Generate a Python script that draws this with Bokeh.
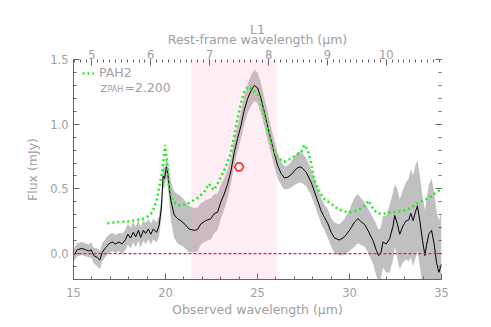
from bokeh.plotting import figure
from bokeh.models import (Range1d, LinearAxis, FixedTicker, Span, BoxAnnotation,
                          Legend, LegendItem, Label, NumeralTickFormatter)
from bokeh.embed import file_html
from bokeh.resources import INLINE
import numpy as np

# ---------------- data ----------------
z_pah = 2.2
obs_wave = [15.0, 15.2, 15.47, 15.65, 15.83, 15.96, 16.1, 16.3, 16.43, 16.56, 16.74, 16.92,
            17.1, 17.29, 17.47, 17.65, 17.83, 17.96, 18.1, 18.25, 18.38, 18.53, 18.65, 18.8,
            18.92, 19.07, 19.2, 19.34, 19.52, 19.65, 19.78, 19.87, 19.95, 20.05, 20.12, 20.2,
            20.29, 20.47, 20.65, 20.83, 21.1, 21.28, 21.56, 21.74, 21.92, 22.19, 22.47, 22.65,
            22.83, 23.01, 23.19, 23.38, 23.56, 23.74, 23.92, 24.1, 24.28, 24.47, 24.65, 24.83,
            25.01, 25.19, 25.37, 25.56, 25.74, 25.92, 26.1, 26.28, 26.46, 26.65, 26.83, 27.0,
            27.2, 27.37, 27.64, 27.92, 28.19, 28.46, 28.64, 28.83, 29.0, 29.19, 29.46, 29.73,
            30.0, 30.28, 30.46, 30.64, 30.82, 31.0, 31.28, 31.46, 31.58, 31.7, 31.82, 32.0,
            32.18, 32.37, 32.46, 32.6, 32.73, 32.91, 33.09, 33.22, 33.33, 33.46, 33.58, 33.69,
            33.82, 33.97, 34.1, 34.18, 34.31, 34.46, 34.6, 34.73, 34.86, 35.0]
obs_flux = [-0.015, 0.03, 0.04, 0.03, 0.02, 0.03, -0.015, -0.03, -0.05, 0.01, 0.045, 0.075,
            0.09, 0.075, 0.09, 0.075, 0.11, 0.15, 0.12, 0.165, 0.13, 0.18, 0.125, 0.18,
            0.155, 0.19, 0.15, 0.19, 0.165, 0.215, 0.36, 0.6, 0.58, 0.67, 0.62, 0.52,
            0.41, 0.30, 0.27, 0.255, 0.22, 0.19, 0.18, 0.185, 0.23, 0.255, 0.27, 0.31,
            0.32, 0.40, 0.46, 0.54, 0.64, 0.785, 0.89, 0.99, 1.11, 1.2, 1.26, 1.30,
            1.28, 1.2, 1.095, 0.98, 0.875, 0.77, 0.68, 0.62, 0.585, 0.59, 0.61, 0.64,
            0.665, 0.67, 0.63, 0.55, 0.44, 0.33, 0.28, 0.23, 0.165, 0.12, 0.105, 0.13,
            0.18, 0.245, 0.27, 0.245, 0.225, 0.18, 0.10, 0.025, -0.015, 0.0, 0.09, 0.075,
            0.115, 0.215, 0.295, 0.23, 0.15, 0.215, 0.255, 0.26, 0.31, 0.255, 0.32, 0.37,
            0.255, 0.10, -0.015, 0.06, 0.15, 0.18, 0.075, -0.07, -0.145, -0.08]
obs_err = [0.05, 0.05, 0.05, 0.05, 0.05, 0.06, 0.06, 0.07, 0.07, 0.07, 0.07, 0.07,
           0.07, 0.07, 0.07, 0.08, 0.08, 0.08, 0.08, 0.08, 0.08, 0.08, 0.08, 0.08,
           0.08, 0.08, 0.08, 0.08, 0.08, 0.08, 0.08, 0.08, 0.08, 0.08, 0.09, 0.12,
           0.15, 0.18, 0.19, 0.19, 0.18, 0.18, 0.17, 0.17, 0.16, 0.16, 0.16, 0.15,
           0.14, 0.13, 0.12, 0.11, 0.10, 0.10, 0.10, 0.10, 0.11, 0.11, 0.12, 0.12,
           0.12, 0.12, 0.11, 0.11, 0.10, 0.10, 0.10, 0.09, 0.09, 0.09, 0.10, 0.11,
           0.12, 0.12, 0.11, 0.10, 0.10, 0.10, 0.10, 0.11, 0.11, 0.12, 0.12, 0.14,
           0.16, 0.19, 0.19, 0.18, 0.17, 0.17, 0.18, 0.20, 0.20, 0.20, 0.20, 0.22,
           0.26, 0.26, 0.24, 0.27, 0.27, 0.28, 0.30, 0.32, 0.34, 0.35, 0.36, 0.35,
           0.35, 0.34, 0.35, 0.36, 0.38, 0.40, 0.40, 0.40, 0.40, 0.40]

model_wave = [16.84, 17.2, 17.56, 18.0, 18.47, 18.8, 19.01, 19.29, 19.52, 19.65, 19.83, 19.98,
              20.1, 20.19, 20.3, 20.47, 20.65, 20.83, 21.2, 21.38, 21.74, 22.1, 22.37, 22.61,
              22.83, 23.01, 23.28, 23.56, 23.74, 23.92, 24.1, 24.28, 24.47, 24.65, 24.83, 25.05,
              25.28, 25.46, 25.64, 25.83, 26.1, 26.46, 26.83, 27.19, 27.37, 27.55, 27.73, 27.92,
              28.1, 28.37, 28.64, 29.0, 29.37, 29.73, 30.1, 30.46, 30.82, 31.04, 31.28, 31.55,
              31.91, 32.28, 32.64, 33.0, 33.37, 33.64, 34.0, 34.37, 34.73, 35.0]
model_flux = [0.235, 0.24, 0.245, 0.25, 0.26, 0.27, 0.285, 0.32, 0.41, 0.51, 0.64, 0.84,
              0.695, 0.51, 0.44, 0.40, 0.375, 0.37, 0.385, 0.40, 0.43, 0.475, 0.54, 0.49,
              0.54, 0.59, 0.67, 0.785, 0.915, 1.045, 1.16, 1.25, 1.29, 1.28, 1.25, 1.225,
              1.12, 1.02, 0.915, 0.81, 0.735, 0.71, 0.735, 0.77, 0.785, 0.84, 0.80, 0.695,
              0.565, 0.475, 0.42, 0.385, 0.345, 0.325, 0.32, 0.335, 0.37, 0.41, 0.345, 0.31,
              0.31, 0.32, 0.325, 0.335, 0.355, 0.385, 0.41, 0.435, 0.475, 0.50]

photo_wave = [24.0]
photo_flux = [0.67]

band_obs = [21.4, 26.05]           # shaded filter region (observed wavelength)
x_ticks = [15, 20, 25, 30, 35]
y_ticks = [0.0, 0.5, 1.0, 1.5]
rest_ticks = [5, 6, 7, 8, 9, 10]

# ---------------- figure ----------------
GREY = "#a0a0a0"
FONT = "DejaVu Sans"
LBL = "12.5px"
TCK = "11.5px"

p = figure(width=483, height=319, output_backend="svg", toolbar_location=None,
           x_range=Range1d(15, 35), y_range=Range1d(-0.2, 1.5),
           min_border_left=73, min_border_right=42, min_border_top=59, min_border_bottom=40)
p.outline_line_color = None
p.xgrid.visible = False
p.ygrid.visible = False
p.background_fill_color = "white"

lo = list(np.array(obs_flux) - np.array(obs_err))
hi = list(np.array(obs_flux) + np.array(obs_err))
p.varea(x=obs_wave, y1=lo, y2=hi, fill_color="#c0c0c0", level="underlay")
p.add_layout(BoxAnnotation(left=band_obs[0], right=band_obs[1], fill_color="#ff9fc4",
                           fill_alpha=0.18, line_color=None, level="underlay"))

p.line(obs_wave, obs_flux, line_color="black", line_width=1)
gl = p.line(model_wave, model_flux, line_color="#22ee22", line_width=2.6, line_dash="2 3")
p.add_layout(Span(location=0, dimension="width", line_color="#ff1a1a", line_width=1.2,
                  line_dash="3 2"))
p.scatter(photo_wave, photo_flux, marker="hex", size=9, fill_color=None,
          line_color="#ff2020", line_width=1.5)

def style(ax):
    ax.axis_line_color = "#666666"
    ax.major_tick_line_color = "#666666"
    ax.minor_tick_line_color = "#666666"
    ax.major_tick_in = 6
    ax.major_tick_out = 0
    ax.minor_tick_in = 3
    ax.minor_tick_out = 0
    ax.major_label_text_color = GREY
    ax.major_label_text_font = FONT
    ax.major_label_text_font_size = TCK
    ax.axis_label_text_color = GREY
    ax.axis_label_text_font = FONT
    ax.axis_label_text_font_size = LBL
    ax.axis_label_text_font_style = "normal"

y_minor = [round(-0.2 + 0.1 * i, 2) for i in range(18)]

# bottom
xa = p.xaxis[0]
style(xa)
xa.ticker = FixedTicker(ticks=x_ticks, minor_ticks=list(range(15, 36)))
xa.axis_label = "Observed wavelength (μm)"
xa.major_label_standoff = 8
xa.axis_label_standoff = 2

# left
ya = p.yaxis[0]
style(ya)
ya.ticker = FixedTicker(ticks=y_ticks, minor_ticks=y_minor)
ya.formatter = NumeralTickFormatter(format="0.0")
ya.axis_label = "Flux (mJy)"
ya.major_label_standoff = 5
ya.axis_label_standoff = 7

# right (ticks only, no labels)
ra = LinearAxis(ticker=FixedTicker(ticks=y_ticks, minor_ticks=y_minor))
style(ra)
ra.axis_line_alpha = 0
ra.major_label_text_font_size = "0px"
ra.major_label_overrides = {t: "" for t in y_ticks}
p.add_layout(ra, "right")

# top: rest-frame wavelength, with the panel name above it
p.extra_x_ranges = {"rest": Range1d(15 / (1 + z_pah), 35 / (1 + z_pah))}
ta = LinearAxis(x_range_name="rest",
                ticker=FixedTicker(ticks=rest_ticks,
                                   minor_ticks=[round(4.7 + 0.1 * i, 1) for i in range(63)]))
style(ta)
ta.axis_line_alpha = 0
ta.axis_label = "L1\nRest-frame wavelength (μm)"
ta.axis_label_text_line_height = 0.62
ta.major_label_standoff = 1
ta.axis_label_standoff = 0
p.add_layout(ta, "above")

leg = Legend(items=[LegendItem(label="PAH2", renderers=[gl])], location=(7, 197),
             background_fill_alpha=0, border_line_alpha=0, label_text_color=GREY,
             label_text_font=FONT, label_text_font_size=LBL, glyph_width=12,
             glyph_height=8, padding=2, margin=0, label_standoff=5)
p.add_layout(leg)

# redshift annotation (screen units relative to the plot frame, from its bottom)
p.add_layout(Label(x=27, y=192, x_units="screen", y_units="screen", text="z",
                   text_baseline="alphabetic", text_color=GREY, text_font=FONT,
                   text_font_size=LBL))
p.add_layout(Label(x=34, y=190, x_units="screen", y_units="screen", text="PAH",
                   text_baseline="alphabetic", text_color=GREY, text_font=FONT,
                   text_font_size="8px"))
p.add_layout(Label(x=51, y=192, x_units="screen", y_units="screen", text="=2.200",
                   text_baseline="alphabetic", text_color=GREY, text_font=FONT,
                   text_font_size=LBL))

open("out.html", "w").write(file_html(p, INLINE))
